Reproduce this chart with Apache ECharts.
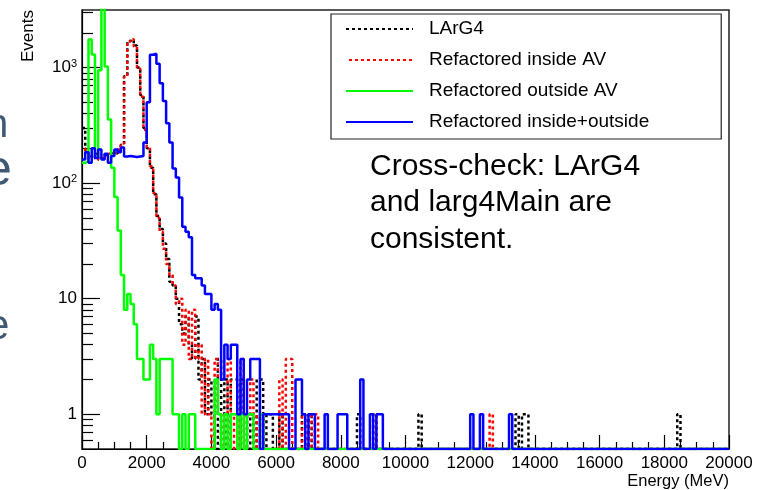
<!DOCTYPE html>
<html>
<head>
<meta charset="utf-8">
<script src="https://cdn.jsdelivr.net/npm/echarts/dist/echarts.min.js"></script>
<style>
  html, body { margin: 0; padding: 0; background: #fff; }
  #main { width: 765px; height: 490px; }
</style>
</head>
<body>
<div id="main"></div>
<script>
// energy binning: 200 bins of 100 MeV
const BIN = 100;
const N_BINS = 200;
const Y_MIN = 0.5;
const Y_MAX = 3150;

// counts per bin, bins 0..71 (0 - 7200 MeV)
const larg4Head = [
  300, 190, 175, 165, 180, 160, 165, 175, 180, 185, 180, 190,
  215, 840, 1700, 1750, 1550, 1000, 580, 300, 200, 136, 80, 52,
  40, 30, 22, 14, 13, 10, 6, 5, 7, 4, 3, 7,
  2, 3, 1, 2, 1, 0, 3, 0, 2, 0, 2, 2,
  0, 2, 1, 0, 1, 0, 2, 2, 0, 1, 1, 0,
  0, 1, 0, 0, 0, 0, 0, 0, 1, 0, 1, 0
];
const insideHead = [
  200, 185, 170, 170, 175, 160, 168, 178, 182, 185, 182, 195,
  220, 830, 1680, 1760, 1520, 980, 560, 290, 205, 140, 82, 50,
  38, 27, 20, 16, 13, 9, 10, 4, 8, 3, 8, 3,
  4, 1, 3, 1, 0, 3, 1, 0, 1, 3, 0, 1,
  0, 3, 0, 1, 2, 1, 0, 1, 0, 0, 0, 0,
  0, 2, 0, 3, 3, 0, 0, 0, 1, 0, 1, 0
];
const outsideHead = [
  150, 155, 1750, 1300, 170, 950, 4000, 1020, 355, 136, 76, 39,
  16, 8, 11, 9, 6, 3, 3, 2, 2, 4, 3, 1,
  3, 3, 3, 3, 1, 1, 0, 1, 0, 1, 1, 0,
  0, 0, 0, 0, 0, 2, 1, 0, 1, 0, 1, 1,
  0, 1, 0, 1, 1, 0, 0, 1, 0, 0, 0, 0,
  0, 0, 0, 0, 0, 0, 0, 0, 0, 0, 0, 0
];
const totalHead = [
  160, 185, 150, 200, 165, 195, 160, 180, 150, 172, 195, 185,
  203, 170, 172, 170, 168, 170, 172, 225, 500, 1290, 1320, 1080,
  730, 515, 330, 225, 134, 112, 75, 42, 38, 34, 16, 15,
  15, 13, 11, 11, 8, 9, 8, 2, 4, 3, 4, 4,
  1, 3, 1, 2, 3, 3, 3, 0, 1, 1, 1, 1,
  1, 1, 1, 1, 0, 0, 2, 2, 1, 0, 1, 1
];

// sparse high-energy tail: [bin, count]
const larg4Tail = [[85, 1], [90, 1], [104, 1], [134, 1], [136, 1], [137, 1], [184, 1]];
const insideTail = [[72, 1], [90, 1], [126, 1]];
const outsideTail = [];
const totalTail = [[75, 1], [79, 1], [80, 1], [81, 1], [86, 2], [89, 1], [91, 1], [92, 1], [120, 1], [123, 1], [132, 1]];

const seriesNames = ['LArG4', 'Refactored inside AV', 'Refactored outside AV', 'Refactored inside+outside'];

const xTickLabels = [0, 2000, 4000, 6000, 8000, 10000, 12000, 14000, 16000, 18000, 20000];
const yMajorTicks = [1, 10, 100, 1000];

function fillBins(head, tail) {
  const out = new Array(N_BINS).fill(0);
  head.forEach((v, i) => { out[i] = v; });
  tail.forEach(([b, v]) => { out[b] = v; });
  return out;
}

// histogram outline, empty bins sit on the bottom of the frame like ROOT
function toSteps(counts) {
  const pts = counts.map((c, i) => [i * BIN, c > 0 ? c : Y_MIN]);
  const last = counts[N_BINS - 1];
  pts.push([N_BINS * BIN, last > 0 ? last : Y_MIN]);
  return pts;
}

// minor ticks 2..9 in every decade
let yMinorTicks = [];
[0.1, 1, 10, 100, 1000].forEach(d => {
  for (let k = 2; k <= 9; k++) {
    const v = d * k;
    if (v > Y_MIN && v < Y_MAX) yMinorTicks.push(v);
  }
});

const FONT = 'Liberation Sans';
const chart = echarts.init(document.getElementById('main'));

const histStyles = [
  { color: '#000000', type: [3, 3], dashOffset: 0 },
  { color: '#ff0000', type: [3, 3], dashOffset: 3 },
  { color: '#00ff00', type: 'solid', dashOffset: 0 },
  { color: '#0000ff', type: 'solid', dashOffset: 0 }
];
const heads = [larg4Head, insideHead, outsideHead, totalHead];
const tails = [larg4Tail, insideTail, outsideTail, totalTail];

const series = seriesNames.map((name, i) => ({
  name: name,
  type: 'line',
  step: 'end',
  symbol: 'none',
  clip: true,
  data: toSteps(fillBins(heads[i], tails[i])),
  lineStyle: {
    color: histStyles[i].color,
    width: 2.5,
    type: histStyles[i].type,
    dashOffset: histStyles[i].dashOffset
  },
  itemStyle: { color: histStyles[i].color }
}));

const option = {
  animation: false,
  textStyle: { fontFamily: FONT },
  grid: {
    left: 82, right: 36, top: 10, bottom: 40,
    show: true, borderColor: '#222', borderWidth: 1.5
  },
  legend: {
    data: seriesNames,
    orient: 'vertical',
    left: 331,
    top: 14,
    padding: [5, 72, 7, 14],
    itemWidth: 67,
    itemHeight: 20,
    itemGap: 11,
    borderColor: '#222',
    borderWidth: 1.2,
    itemStyle: { opacity: 0 },
    textStyle: { fontSize: 19, lineHeight: 20, color: '#000', fontFamily: FONT, padding: [0, 0, 0, 11] }
  },
  xAxis: {
    type: 'value',
    min: 0,
    max: 20000,
    interval: 2000,
    name: 'Energy (MeV)',
    nameLocation: 'end',
    nameGap: 0,
    nameTextStyle: { fontSize: 16.5, color: '#000', align: 'right', verticalAlign: 'top', padding: [24, 0, 0, 0] },
    axisLine: { lineStyle: { color: '#000', width: 1.2 } },
    axisTick: { inside: true, length: 14, lineStyle: { color: '#000', width: 1.2 } },
    minorTick: { show: true, splitNumber: 4, length: 7, lineStyle: { color: '#000', width: 1.2 } },
    axisLabel: {
      fontSize: 17, color: '#000', margin: 6,
      customValues: xTickLabels,
      formatter: v => String(Math.round(v))
    },
    splitLine: { show: false }
  },
  yAxis: [
    {
      type: 'log',
      logBase: 10,
      min: Y_MIN,
      max: Y_MAX,
      axisLine: { show: true, lineStyle: { color: '#000', width: 1.2 } },
      axisTick: { inside: true, length: 18, customValues: yMajorTicks, lineStyle: { color: '#000', width: 1.2 } },
      axisLabel: {
        customValues: yMajorTicks,
        fontSize: 17, color: '#000', margin: 5,
        formatter: v => {
          const p = Math.round(Math.log10(v));
          if (p === 0) return '1';
          if (p === 1) return '10';
          return '10{sup|' + p + '}';
        },
        rich: {
          sup: { fontSize: 11, color: '#000', verticalAlign: 'top', padding: [0, 0, 8, 0] }
        }
      },
      splitLine: { show: false }
    },
    {
      type: 'log',
      logBase: 10,
      min: Y_MIN,
      max: Y_MAX,
      position: 'left',
      axisLine: { show: false },
      axisTick: { inside: true, length: 11, customValues: yMinorTicks, lineStyle: { color: '#000', width: 1.2 } },
      axisLabel: { show: false },
      splitLine: { show: false }
    }
  ],
  graphic: [
    {
      type: 'text', x: 28, y: 10, rotation: Math.PI / 2,
      style: { text: 'Events', font: '17px "Liberation Sans"', fill: '#000', align: 'right', verticalAlign: 'middle' }
    },
    {
      type: 'text', left: 370, top: 148,
      style: {
        text: 'Cross-check: LArG4\nand larg4Main are\nconsistent.',
        font: '30px "Liberation Sans"', lineHeight: 36.5, fill: '#000'
      }
    },
    { type: 'text', x: -14, y: 106, style: { text: 'n', font: '40px "Liberation Sans"', fill: '#3f5874' } },
    { type: 'text', x: -16, y: 146, style: { text: 'e', font: '50px "Liberation Sans"', fill: '#3f5874' } },
    { type: 'text', x: -14, y: 306, style: { text: 'e', font: '42px "Liberation Sans"', fill: '#3f5874' } }
  ],
  series: series
};

chart.setOption(option);
</script>
</body>
</html>
